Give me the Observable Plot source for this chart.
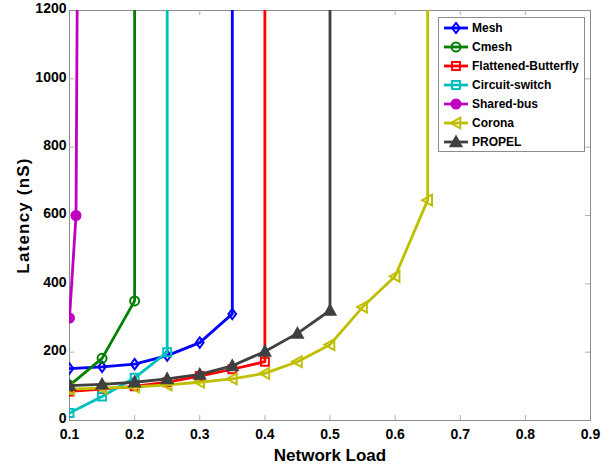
<!DOCTYPE html>
<html><head><meta charset="utf-8">
<script src="https://cdn.jsdelivr.net/npm/d3@7"></script>
<script src="https://cdn.jsdelivr.net/npm/@observablehq/plot@0.6"></script>
<style>
body{margin:0;background:#fff;}
#chart svg{font-family:"Liberation Sans",Arial,sans-serif;}
#chart svg [aria-label="x-axis label"] text{font-size:17px;}
#chart svg [aria-label="y-axis label"] text{font-size:17px;letter-spacing:1.2px;}
</style></head><body><div id="chart"></div><script>
// ---- data ----
const seriesNames = ["Mesh","Cmesh","Flattened-Butterfly","Circuit-switch","Shared-bus","Corona","PROPEL"];
const seriesColors = ["#0000ff","#008000","#ff0000","#00bfbf","#bf00bf","#bfbf00","#404040"];
const meshX = [0.1,0.15,0.2,0.25,0.3,0.35,0.35];
const meshY = [152,157,165,190,228,312,5000];
const cmeshX = [0.1,0.15,0.2,0.2];
const cmeshY = [103,182,350,5000];
const fbX = [0.1,0.15,0.2,0.25,0.3,0.35,0.4,0.4];
const fbY = [85,92,100,112,130,150,172,5000];
const csX = [0.1,0.15,0.2,0.25,0.25];
const csY = [22,70,125,200,5000];
const sbX = [0.1,0.11,0.12];
const sbY = [300,600,4000];
const coronaX = [0.1,0.15,0.2,0.25,0.3,0.35,0.4,0.45,0.5,0.55,0.6,0.65,0.65];
const coronaY = [92,95,98,104,112,122,138,172,222,332,422,645,5000];
const propelX = [0.1,0.15,0.2,0.25,0.3,0.35,0.4,0.45,0.5,0.5];
const propelY = [102,106,112,122,135,160,202,255,322,5000];
const xTicks = [0.1,0.2,0.3,0.4,0.5,0.6,0.7,0.8,0.9];
const yTicks = [0,200,400,600,800,1000,1200];

const seriesX = [meshX,cmeshX,fbX,csX,sbX,coronaX,propelX];
const seriesY = [meshY,cmeshY,fbY,csY,sbY,coronaY,propelY];

// ---- symbols ----
const R = s => Math.sqrt(s/Math.PI);
const symDiamond = {draw(c,s){const r=R(s);const h=r*1.15,w=r*0.85;c.moveTo(0,-h);c.lineTo(w,0);c.lineTo(0,h);c.lineTo(-w,0);c.closePath();}};
const symCircle = {draw(c,s){const r=R(s);c.moveTo(r,0);c.arc(0,0,r,0,2*Math.PI);}};
const symSquare = {draw(c,s){const r=R(s)*0.88;c.moveTo(-r,-r);c.lineTo(r,-r);c.lineTo(r,r);c.lineTo(-r,r);c.closePath();}};
const symUp = {draw(c,s){const r=R(s)*1.2;c.moveTo(0,-r);c.lineTo(r,r*0.8);c.lineTo(-r,r*0.8);c.closePath();}};
const symLeft = {draw(c,s){const r=R(s)*1.2;c.moveTo(-r,0);c.lineTo(r*0.8,-r);c.lineTo(r*0.8,r);c.closePath();}};
const seriesSymbols = [symDiamond,symCircle,symSquare,symSquare,symCircle,symLeft,symUp];
const seriesFilled = [false,false,false,false,true,false,true];

const rows = [];
seriesNames.forEach((name,i)=>{
  seriesX[i].forEach((x,j)=>rows.push({series:name, load:x, latency:seriesY[i][j]}));
});

const W = 611, H = 466, mL = 69, mR = 21, mT = 10, mB = 46;
const xPer = (0.9-0.1)/(W-mL-mR), yPer = 1200/(H-mT-mB);
const tk = 5;

const marks = [
  Plot.frame({stroke:"#8c8c8c"}),
  Plot.ruleX(xTicks.slice(1,-1),{y1:0,y2:tk*yPer,stroke:"#b0b0b0"}),
  Plot.ruleX(xTicks.slice(1,-1),{y1:1200-tk*yPer,y2:1200,stroke:"#b0b0b0"}),
  Plot.ruleY(yTicks.slice(1,-1),{x1:0.1,x2:0.1+tk*xPer,stroke:"#b0b0b0"}),
  Plot.ruleY(yTicks.slice(1,-1),{x1:0.9-tk*xPer,x2:0.9,stroke:"#b0b0b0"}),
  Plot.axisX(xTicks,{tickSize:0,tickPadding:9,tickFormat:d=>d.toFixed(1),fontSize:14,fontWeight:"bold",fill:"black",
    label:"Network Load",labelAnchor:"center",labelOffset:40,labelArrow:"none"}),
  Plot.axisY(yTicks,{tickSize:0,tickPadding:3,dy:-1.5,tickFormat:d=>String(d),fontSize:14,fontWeight:"bold",fill:"black",
    label:"Latency (nS)",labelAnchor:"center",labelOffset:53,labelArrow:"none"}),
];
seriesNames.forEach((name,i)=>{
  const d = rows.filter(r=>r.series===name);
  marks.push(Plot.line(d,{x:"load",y:"latency",stroke:seriesColors[i],strokeWidth:2.8,clip:true}));
  marks.push(Plot.dot(d,{x:"load",y:"latency",stroke:seriesColors[i],fill:seriesFilled[i]?seriesColors[i]:"none",
    strokeWidth:2,r:4.5,symbol:seriesSymbols[i],clip:true}));
});

const chart = Plot.plot({
  width:W,height:H,marginLeft:mL,marginRight:mR,marginTop:mT,marginBottom:mB,
  x:{domain:[0.1,0.9]},y:{domain:[0,1200]},
  style:{background:"white",fontFamily:'"Liberation Sans",Arial,sans-serif'},
  marks
});
document.getElementById("chart").appendChild(chart);

// ---- legend ----
const svg = d3.select(chart);
const lg = svg.append("g").attr("font-family",'"Liberation Sans",Arial,sans-serif').attr("text-anchor","start");
lg.append("rect").attr("x",438.5).attr("y",17.5).attr("width",146).attr("height",134)
  .attr("fill","white").attr("stroke","#8c8c8c");
seriesNames.forEach((name,i)=>{
  const y = 28 + i*19;
  lg.append("line").attr("x1",444).attr("x2",468).attr("y1",y).attr("y2",y)
    .attr("stroke",seriesColors[i]).attr("stroke-width",2.8);
  lg.append("path").attr("transform",`translate(456,${y})`)
    .attr("d",d3.symbol(seriesSymbols[i],4.5*4.5*Math.PI)())
    .attr("stroke",seriesColors[i]).attr("stroke-width",2)
    .attr("fill",seriesFilled[i]?seriesColors[i]:"none");
  lg.append("text").attr("x",472).attr("y",y).attr("dy","0.35em").attr("text-anchor","start")
    .attr("font-size",12).attr("font-weight","bold").attr("fill","black").text(name);
});
</script></body></html>
